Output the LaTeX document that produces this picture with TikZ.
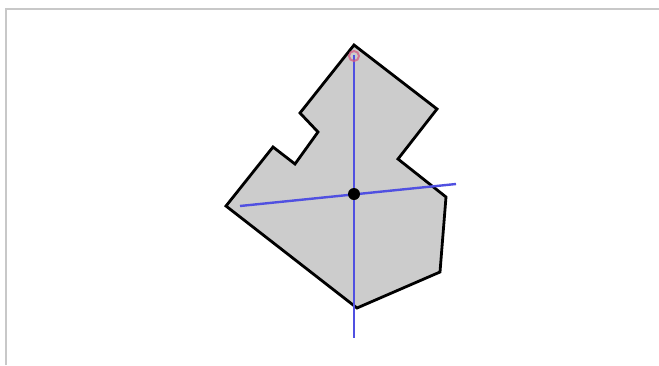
\documentclass[tikz,border=0pt]{standalone}
\usepackage{tikz}
\definecolor{framegray}{RGB}{200,200,200}
\definecolor{shapegray}{RGB}{204,204,204}
\definecolor{axisblue}{RGB}{80,80,225}
\definecolor{pivotred}{RGB}{215,90,130}
\tikzset{
  outline/.style={draw=black, line width=2.8pt, fill=shapegray, line join=miter},
  axis/.style={draw=axisblue, line width=2.4pt},
  centre/.style={circle, fill=black, inner sep=0pt, minimum size=12pt},
  pivot/.style={circle, draw=pivotred, line width=2pt, inner sep=0pt, minimum size=10pt, opacity=0.75}
}

\begin{document}
\begin{tikzpicture}[x=1pt, y=-1pt]
    \useasboundingbox (0,0) rectangle (659,365);
    % frame
    \draw[framegray, line width=2pt] (6,365) -- (6,9) -- (659,9);
    % polygon
    \draw[outline] (354,45) -- (437,109) -- (398,159) -- (446,197) -- (440,272)
      -- (357,308) -- (226,206) -- (273,147) -- (295,164) -- (318,132)
      -- (300,113) -- cycle;
    % axes through the centre
    \coordinate (top) at (354,55);
    \coordinate (bottom) at (354,338);
    \coordinate (west) at (240,206);
    \coordinate (east) at (456,184);
    \draw[axis] (top) -- (bottom);
    \draw[axis] (west) -- (east);
    \node[centre] (mid) at (354,194) {};
    \node[pivot] (pin) at (354,56) {};
\end{tikzpicture}
\end{document}
